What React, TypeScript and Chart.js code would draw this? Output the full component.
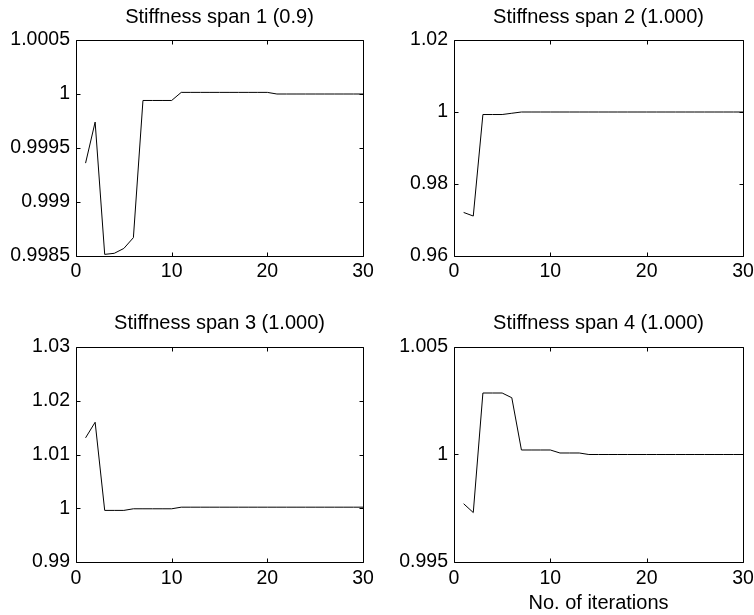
import React, { useEffect, useRef } from "react";
import { Chart, registerables } from "chart.js";

Chart.register(...registerables);

// ---------- data ----------
const iterations = [
  1, 2, 3, 4, 5, 6, 7, 8, 9, 10, 11, 12, 13, 14, 15, 16, 17, 18, 19, 20, 21, 22, 23, 24, 25, 26, 27, 28, 29, 30,
];

const span1Values = [
  0.99936, 0.99974, 0.998515, 0.998525, 0.99857, 0.99867, 0.99994, 0.99994, 0.99994, 0.99994,
  1.000015, 1.000015, 1.000015, 1.000015, 1.000015, 1.000015, 1.000015, 1.000015, 1.000015, 1.000015,
  1.0, 1.0, 1.0, 1.0, 1.0, 1.0, 1.0, 1.0, 1.0, 1.0,
];

const span2Values = [
  0.9721, 0.9711, 0.9993, 0.9993, 0.9993, 0.99965, 1.0, 1.0, 1.0, 1.0,
  1.0, 1.0, 1.0, 1.0, 1.0, 1.0, 1.0, 1.0, 1.0, 1.0,
  1.0, 1.0, 1.0, 1.0, 1.0, 1.0, 1.0, 1.0, 1.0, 1.0,
];

const span3Values = [
  1.0131, 1.016, 0.9996, 0.9996, 0.9996, 0.9999, 0.9999, 0.9999, 0.9999, 0.9999,
  1.0002, 1.0002, 1.0002, 1.0002, 1.0002, 1.0002, 1.0002, 1.0002, 1.0002, 1.0002,
  1.0002, 1.0002, 1.0002, 1.0002, 1.0002, 1.0002, 1.0002, 1.0002, 1.0002, 1.0002,
];

const span4Values = [
  0.99771, 0.9973, 1.00286, 1.00286, 1.00286, 1.00264, 1.00021, 1.00021, 1.00021, 1.00021,
  1.00007, 1.00007, 1.00007, 1.0, 1.0, 1.0, 1.0, 1.0, 1.0, 1.0,
  1.0, 1.0, 1.0, 1.0, 1.0, 1.0, 1.0, 1.0, 1.0, 1.0,
];

const xTicks = [0, 10, 20, 30];
const span1Ticks = [0.9985, 0.999, 0.9995, 1, 1.0005];
const span2Ticks = [0.96, 0.98, 1, 1.02];
const span3Ticks = [0.99, 1, 1.01, 1.02, 1.03];
const span4Ticks = [0.995, 1, 1.005];

const panelTitles = [
  "Stiffness span 1 (0.9)",
  "Stiffness span 2 (1.000)",
  "Stiffness span 3 (1.000)",
  "Stiffness span 4 (1.000)",
];
const xAxisLabel = "No. of iterations";

// ---------- styling ----------
const FONT_FAMILY = "'Liberation Sans', Arial, Helvetica, sans-serif";
const TICK_FONT = { family: FONT_FAMILY, size: 19.5, weight: "normal" as const, lineHeight: 1.2 };
const TITLE_FONT = { family: FONT_FAMILY, size: 20, weight: "normal" as const, lineHeight: 1.2 };

const framePlugin = {
  id: "matlabFrame",
  afterDraw(chart: any) {
    const { ctx, chartArea, scales } = chart;
    const L = Math.round(chartArea.left) + 0.5;
    const R = Math.round(chartArea.right) + 0.5;
    const T = Math.round(chartArea.top) + 0.5;
    const B = Math.round(chartArea.bottom) + 0.5;
    const len = 4;
    ctx.save();
    ctx.strokeStyle = "#000";
    ctx.lineWidth = 1;
    ctx.beginPath();
    ctx.rect(L, T, R - L, B - T);
    const xs = scales.x;
    const ys = scales.y;
    xs.ticks.forEach((t: any) => {
      const px = Math.round(xs.getPixelForValue(t.value)) + 0.5;
      ctx.moveTo(px, B);
      ctx.lineTo(px, B - len);
      ctx.moveTo(px, T);
      ctx.lineTo(px, T + len);
    });
    ys.ticks.forEach((t: any) => {
      const py = Math.round(ys.getPixelForValue(t.value)) + 0.5;
      ctx.moveTo(L, py);
      ctx.lineTo(L + len, py);
      ctx.moveTo(R, py);
      ctx.lineTo(R - len, py);
    });
    ctx.stroke();
    ctx.restore();
  },
};

type PanelProps = {
  left: number;
  top: number;
  plotWidth: number;
  height: number;
  axisWidth: number;
  xAxisHeight: number;
  titlePad: { top: number; bottom: number };
  title: string;
  values: number[];
  yTicks: number[];
  xTickPad: number;
  xLabel?: string;
};

function fmt(v: number) {
  return String(Number(Number(v).toFixed(6)));
}

function Panel(p: PanelProps) {
  const ref = useRef<HTMLCanvasElement | null>(null);
  const width = p.plotWidth + 2 * p.axisWidth;

  useEffect(() => {
    if (!ref.current) return;
    const yMin = p.yTicks[0];
    const yMax = p.yTicks[p.yTicks.length - 1];
    const chart = new Chart(ref.current, {
      type: "line",
      data: {
        datasets: [
          {
            data: iterations.map((x, i) => ({ x, y: p.values[i] })),
            borderColor: "#000",
            borderWidth: 1,
            pointRadius: 0,
            tension: 0,
            fill: false,
          },
        ],
      },
      options: {
        animation: false,
        responsive: false,
        maintainAspectRatio: false,
        devicePixelRatio: 1,
        events: [],
        layout: { padding: 0 },
        plugins: {
          legend: { display: false },
          tooltip: { enabled: false },
          title: {
            display: true,
            text: p.title,
            color: "#000",
            font: TITLE_FONT,
            padding: p.titlePad,
          },
        },
        scales: {
          x: {
            type: "linear",
            min: 0,
            max: 30,
            afterBuildTicks: (s: any) => {
              s.ticks = xTicks.map((v) => ({ value: v }));
            },
            grid: { display: false, drawTicks: false },
            border: { display: false },
            ticks: {
              color: "#000",
              font: TICK_FONT,
              padding: p.xTickPad,
              maxRotation: 0,
              autoSkip: false,
              callback: (v: any) => fmt(v),
            },
            title: p.xLabel
              ? { display: true, text: p.xLabel, color: "#000", font: TITLE_FONT, padding: { top: 0, bottom: 0 } }
              : { display: false },
            afterFit: (s: any) => {
              s.height = p.xAxisHeight;
            },
          },
          y: {
            type: "linear",
            position: "left",
            min: yMin,
            max: yMax,
            afterBuildTicks: (s: any) => {
              s.ticks = p.yTicks.map((v) => ({ value: v }));
            },
            grid: { display: false, drawTicks: false },
            border: { display: false },
            ticks: {
              color: "#000",
              font: TICK_FONT,
              padding: 6,
              autoSkip: false,
              callback: (v: any) => fmt(v),
            },
            afterFit: (s: any) => {
              s.width = p.axisWidth;
            },
          },
          yMirror: {
            type: "linear",
            position: "right",
            min: yMin,
            max: yMax,
            grid: { display: false, drawTicks: false },
            border: { display: false },
            ticks: { display: false },
            afterFit: (s: any) => {
              s.width = p.axisWidth;
            },
          },
        },
      } as any,
      plugins: [framePlugin],
    });
    return () => chart.destroy();
  }, []);

  return (
    <canvas
      ref={ref}
      width={width}
      height={p.height}
      style={{ position: "absolute", left: p.left, top: p.top, width, height: p.height }}
    />
  );
}

export default function App() {
  return (
    <div
      style={{
        position: "fixed",
        left: 0,
        top: 0,
        width: 754,
        height: 615,
        overflow: "hidden",
        background: "#fff",
      }}
    >
      <Panel
        left={0}
        top={0}
        plotWidth={287}
        height={300}
        axisWidth={76}
        xAxisHeight={44}
        titlePad={{ top: 5, bottom: 11 }}
        title={panelTitles[0]}
        values={span1Values}
        yTicks={span1Ticks}
        xTickPad={4}
      />
      <Panel
        left={377}
        top={0}
        plotWidth={289}
        height={300}
        axisWidth={77}
        xAxisHeight={44}
        titlePad={{ top: 5, bottom: 11 }}
        title={panelTitles[1]}
        values={span2Values}
        yTicks={span2Ticks}
        xTickPad={4}
      />
      <Panel
        left={0}
        top={300}
        plotWidth={287}
        height={315}
        axisWidth={76}
        xAxisHeight={53}
        titlePad={{ top: 11, bottom: 12 }}
        title={panelTitles[2]}
        values={span3Values}
        yTicks={span3Ticks}
        xTickPad={5}
      />
      <Panel
        left={377}
        top={300}
        plotWidth={289}
        height={315}
        axisWidth={77}
        xAxisHeight={53}
        titlePad={{ top: 11, bottom: 12 }}
        title={panelTitles[3]}
        values={span4Values}
        yTicks={span4Ticks}
        xTickPad={5}
        xLabel={xAxisLabel}
      />
    </div>
  );
}
